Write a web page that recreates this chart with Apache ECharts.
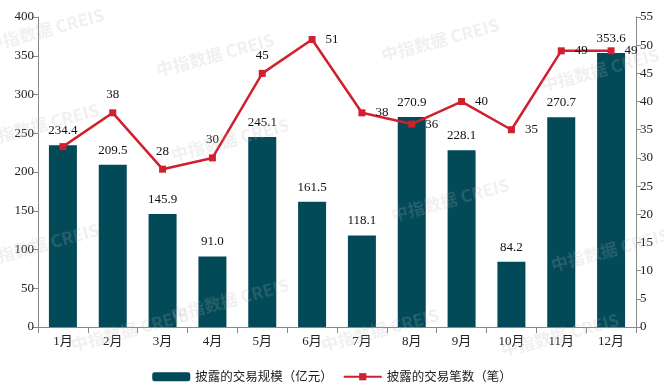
<!DOCTYPE html>
<html><head><meta charset="utf-8">
<script src="https://cdn.jsdelivr.net/npm/echarts@6/dist/echarts.min.js"></script>
<style>html,body{margin:0;padding:0;background:#fff}#c{width:664px;height:392px}</style>
</head><body><div id="c"></div>
<script>
var categories = ['1月','2月','3月','4月','5月','6月','7月','8月','9月','10月','11月','12月'];
var volumeValues = [234.4, 209.5, 145.9, 91.0, 245.1, 161.5, 118.1, 270.9, 228.1, 84.2, 270.7, 353.6];
var countValues = [32, 38, 28, 30, 45, 51, 38, 36, 40, 35, 49, 49];
var countLabelPos = ['none','top','top','top','top','right','right','right','right','right','right','right'];
var seriesNames = ['披露的交易规模（亿元）', '披露的交易笔数（笔）'];

var FONT = "'Liberation Serif', 'Noto Sans CJK SC', serif";
var chart = echarts.init(document.getElementById('c'));
var lineData = countValues.map(function (v, i) {
  var p = countLabelPos[i];
  return {
    value: v,
    label: p === 'none' ? { show: false } : { show: true, position: p, distance: p === 'right' ? 10 : 8 }
  };
});
var wm = [];
var wmPos = [[45,30],[215,55],[40,125],[230,140],[40,245],[230,300],[440,40],[600,70],[450,200],[610,250],[380,330],[560,335],[130,330]];
wmPos.forEach(function (p) {
  wm.push({ type: 'text', x: p[0], y: p[1], rotation: 0.26, z: 100,
    style: { text: '中指数据 CREIS', fill: 'rgba(180,180,180,0.2)', font: 'bold 17px "Noto Sans CJK SC", sans-serif', textAlign: 'center', textVerticalAlign: 'middle' } });
});
chart.setOption({
  animation: false,
  graphic: wm,
  grid: { left: 38, right: 28, top: 17, bottom: 65 },
  legend: {
    bottom: 4, left: 'center', itemGap: 10, itemWidth: 38, itemHeight: 9,
    textStyle: { fontFamily: "'Noto Sans CJK SC', sans-serif", fontSize: 12.5, color: '#222' },
    data: [{ name: seriesNames[0] }, { name: seriesNames[1] }]
  },
  xAxis: {
    type: 'category', data: categories, boundaryGap: true,
    axisLine: { lineStyle: { color: '#888' } },
    axisTick: { show: true, alignWithLabel: false, length: 6, lineStyle: { color: '#888' } },
    axisLabel: { color: '#222', fontFamily: FONT, fontSize: 13, margin: 8 }
  },
  yAxis: [
    { type: 'value', min: 0, max: 400, interval: 50, splitLine: { show: false },
      axisLine: { show: true, lineStyle: { color: '#888' } },
      axisTick: { show: true, length: 5, lineStyle: { color: '#888' } },
      axisLabel: { color: '#222', fontFamily: FONT, fontSize: 13, margin: 4 } },
    { type: 'value', min: 0, max: 55, interval: 5, splitLine: { show: false },
      axisLine: { show: true, lineStyle: { color: '#888' } },
      axisTick: { show: true, length: 5, lineStyle: { color: '#888' } },
      axisLabel: { color: '#222', fontFamily: FONT, fontSize: 13, margin: 4 } }
  ],
  series: [
    { name: seriesNames[0], type: 'bar', data: volumeValues, barWidth: 28, yAxisIndex: 0,
      itemStyle: { color: '#034A58' },
      label: { show: true, position: 'top', distance: 8, color: '#111', fontFamily: FONT, fontSize: 13,
        formatter: function (p) { return p.value.toFixed(1); } } },
    { name: seriesNames[1], type: 'line', data: lineData, yAxisIndex: 1,
      symbol: 'rect', symbolSize: 7,
      lineStyle: { color: '#D0202E', width: 2.5 }, itemStyle: { color: '#D0202E' },
      label: { color: '#111', fontFamily: FONT, fontSize: 13 } }
  ]
});
</script></body></html>
